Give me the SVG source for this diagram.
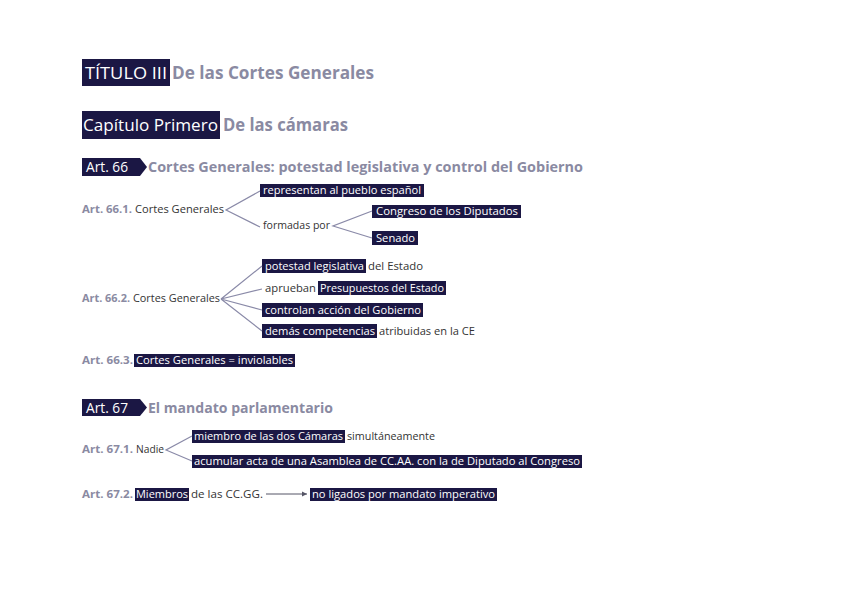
<svg xmlns="http://www.w3.org/2000/svg" width="848" height="599" viewBox="0 0 848 599">
<style>
text{font-family:"Open Sans",Lato,sans-serif}
.hd{font-weight:bold;fill:#8a8aa2}
.wt{fill:#ffffff}
.tx{font-size:10.5px;fill:#333333}
.lb{font-size:10.5px;font-weight:bold;fill:#8a8aa2}
.bx{fill:#1b1744}
.sm{font-size:10.5px}
.cn{stroke:#8a8aa8;stroke-width:1.2;fill:none}
</style>
<defs>
<marker id="ah" markerWidth="6" markerHeight="6" refX="5" refY="3" orient="auto" markerUnits="userSpaceOnUse">
<path d="M0,0.5 L5,3 L0,5.5 Z" fill="#555566"/>
</marker>
</defs>
<rect width="848" height="599" fill="#ffffff"/>

<g id="titulo">
<rect class="bx" x="82" y="59" width="88" height="27"/>
<text class="wt" x="85" y="79" font-size="17" textLength="82" lengthAdjust="spacingAndGlyphs">TÍTULO III</text>
<text class="hd" x="172" y="79" font-size="17" textLength="202" lengthAdjust="spacingAndGlyphs">De las Cortes Generales</text>
</g>

<g id="capitulo">
<rect class="bx" x="82" y="111" width="138" height="28"/>
<text class="wt" x="83" y="131" font-size="17" textLength="135" lengthAdjust="spacingAndGlyphs">Capítulo Primero</text>
<text class="hd" x="223" y="131" font-size="17" textLength="125" lengthAdjust="spacingAndGlyphs">De las cámaras</text>
</g>

<g id="art66">
<path class="bx" d="M82,158 H140 L147,167 L140,176 H82 Z"/>
<text class="wt" x="86" y="172" font-size="14" textLength="42" lengthAdjust="spacingAndGlyphs">Art. 66</text>
<text class="hd" x="148" y="172" font-size="14" textLength="435" lengthAdjust="spacingAndGlyphs">Cortes Generales: potestad legislativa y control del Gobierno</text>
</g>

<g id="art66-1">
<text class="lb" x="82" y="213" textLength="50" lengthAdjust="spacingAndGlyphs">Art. 66.1.</text>
<text class="tx" x="135" y="213" textLength="89" lengthAdjust="spacingAndGlyphs">Cortes Generales</text>
</g>
<g id="representan">
<rect class="bx" x="260" y="184" width="164" height="13"/>
<text class="wt sm" x="263" y="194" textLength="158" lengthAdjust="spacingAndGlyphs">representan al pueblo español</text>
</g>
<g id="formadas">
<text class="tx" x="263" y="229" textLength="67" lengthAdjust="spacingAndGlyphs">formadas por</text>
</g>
<g id="congreso">
<rect class="bx" x="372" y="205" width="149" height="13"/>
<text class="wt sm" x="376" y="215" textLength="142" lengthAdjust="spacingAndGlyphs">Congreso de los Diputados</text>
</g>
<g id="senado">
<rect class="bx" x="372" y="231" width="46" height="14"/>
<text class="wt sm" x="376" y="242" textLength="39" lengthAdjust="spacingAndGlyphs">Senado</text>
</g>

<g id="art66-2">
<text class="lb" x="82" y="302" textLength="48" lengthAdjust="spacingAndGlyphs">Art. 66.2.</text>
<text class="tx" x="133" y="302" textLength="87" lengthAdjust="spacingAndGlyphs">Cortes Generales</text>
</g>
<g id="potestad">
<rect class="bx" x="262" y="259" width="104" height="14"/>
<text class="wt sm" x="265" y="270" textLength="99" lengthAdjust="spacingAndGlyphs">potestad legislativa</text>
<text class="tx" x="368" y="270" textLength="55" lengthAdjust="spacingAndGlyphs">del Estado</text>
</g>
<g id="aprueban">
<text class="tx" x="265" y="292" textLength="51" lengthAdjust="spacingAndGlyphs">aprueban</text>
<rect class="bx" x="318" y="281" width="128" height="14"/>
<text class="wt sm" x="320" y="292" textLength="124" lengthAdjust="spacingAndGlyphs">Presupuestos del Estado</text>
</g>
<g id="controlan">
<rect class="bx" x="262" y="303" width="161" height="14"/>
<text class="wt sm" x="265" y="314" textLength="156" lengthAdjust="spacingAndGlyphs">controlan acción del Gobierno</text>
</g>
<g id="demas">
<rect class="bx" x="262" y="324" width="115" height="14"/>
<text class="wt sm" x="265" y="335" textLength="110" lengthAdjust="spacingAndGlyphs">demás competencias</text>
<text class="tx" x="379" y="335" textLength="96" lengthAdjust="spacingAndGlyphs">atribuidas en la CE</text>
</g>

<g id="art66-3">
<text class="lb" x="82" y="364" textLength="51" lengthAdjust="spacingAndGlyphs">Art. 66.3.</text>
<rect class="bx" x="134" y="354" width="161" height="13"/>
<text class="wt sm" x="136" y="364" textLength="157" lengthAdjust="spacingAndGlyphs">Cortes Generales = inviolables</text>
</g>

<g id="art67">
<path class="bx" d="M82,399 H140 L147,407.5 L140,416 H82 Z"/>
<text class="wt" x="86" y="413" font-size="14" textLength="42" lengthAdjust="spacingAndGlyphs">Art. 67</text>
<text class="hd" x="148" y="413" font-size="14" textLength="185" lengthAdjust="spacingAndGlyphs">El mandato parlamentario</text>
</g>

<g id="art67-1">
<text class="lb" x="82" y="453" textLength="51" lengthAdjust="spacingAndGlyphs">Art. 67.1.</text>
<text class="tx" x="136" y="453" textLength="28" lengthAdjust="spacingAndGlyphs">Nadie</text>
</g>
<g id="miembro">
<rect class="bx" x="192" y="430" width="153" height="13"/>
<text class="wt sm" x="194" y="440" textLength="149" lengthAdjust="spacingAndGlyphs">miembro de las dos Cámaras</text>
<text class="tx" x="347" y="440" textLength="88" lengthAdjust="spacingAndGlyphs">simultáneamente</text>
</g>
<g id="acumular">
<rect class="bx" x="192" y="455" width="390" height="13"/>
<text class="wt sm" x="194" y="465" textLength="386" lengthAdjust="spacingAndGlyphs">acumular acta de una Asamblea de CC.AA. con la de Diputado al Congreso</text>
</g>

<g id="art67-2">
<text class="lb" x="82" y="498" textLength="51" lengthAdjust="spacingAndGlyphs">Art. 67.2.</text>
<rect class="bx" x="135" y="488" width="54" height="13"/>
<text class="wt sm" x="136" y="498" textLength="52" lengthAdjust="spacingAndGlyphs">Miembros</text>
<text class="tx" x="191" y="498" textLength="72" lengthAdjust="spacingAndGlyphs">de las CC.GG.</text>
</g>
<g id="nomandato">
<rect class="bx" x="310" y="488" width="187" height="13"/>
<text class="wt sm" x="312" y="498" textLength="183" lengthAdjust="spacingAndGlyphs">no ligados por mandato imperativo</text>
</g>

<g id="connectors">
<path class="cn" d="M260,191 L226,210 L260,227"/>
<path class="cn" d="M372,211 L333,226 L372,238"/>
<path class="cn" d="M262,266 L221,299 L262,289 M221,299 L262,310 M221,299 L262,331"/>
<path class="cn" d="M192,436 L166,450 L192,461"/>
<line x1="266" y1="494" x2="307" y2="494" stroke="#555566" stroke-width="1" marker-end="url(#ah)"/>
</g>
</svg>
